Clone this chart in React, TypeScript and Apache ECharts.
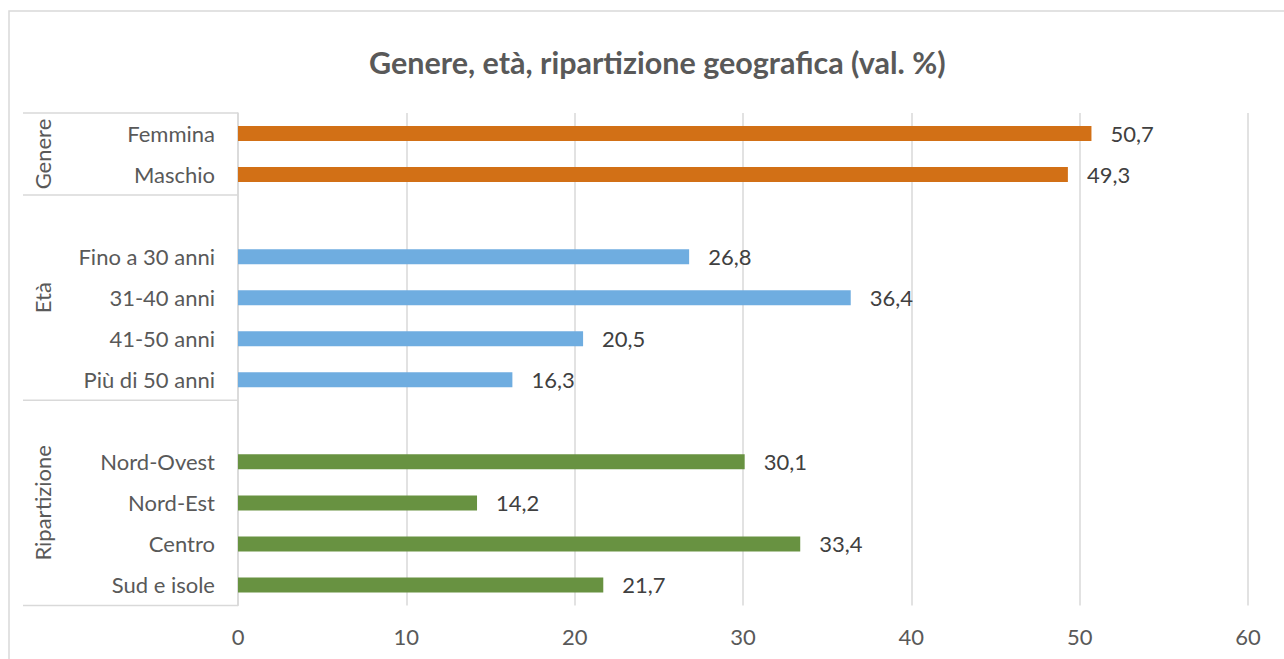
import React, { useEffect, useRef } from "react";
import * as echarts from "echarts";

const titleText = "Genere, età, ripartizione geografica (val. %)";

const genereCats = ["Femmina", "Maschio"];
const genereValues = [50.7, 49.3];
const etaCats = ["Fino a 30 anni", "31-40 anni", "41-50 anni", "Più di 50 anni"];
const etaValues = [26.8, 36.4, 20.5, 16.3];
const ripCats = ["Nord-Ovest", "Nord-Est", "Centro", "Sud e isole"];
const ripValues = [30.1, 14.2, 33.4, 21.7];

const groupNames = ["Genere", "Età", "Ripartizione"];
const groupColors = ["#D27016", "#6FADE0", "#689241"];

const xTicks = { min: 0, max: 60, interval: 10 };

const FONT = "Lato, 'Open Sans', sans-serif";

export default function App() {
  const ref = useRef<HTMLDivElement>(null);

  useEffect(() => {
    document.body.style.margin = "0";
    const el = ref.current!;
    const chart = echarts.init(el, null, { renderer: "svg" });

    const groups = [
      { cats: genereCats, vals: genereValues, blank: false },
      { cats: etaCats, vals: etaValues, blank: true },
      { cats: ripCats, vals: ripValues, blank: true },
    ];
    const categories: string[] = [];
    const ranges: { start: number; end: number }[] = [];
    const seriesData: any[][] = groups.map(() => []);
    groups.forEach((g, gi) => {
      const start = categories.length;
      if (g.blank) {
        categories.push(" ".repeat(gi));
      }
      g.cats.forEach((c) => categories.push(c));
      ranges.push({ start, end: categories.length });
    });
    groups.forEach((g, gi) => {
      const arr: any[] = new Array(categories.length).fill("-");
      const off = ranges[gi].end - g.cats.length;
      g.vals.forEach((v, i) => (arr[off + i] = v));
      seriesData[gi] = arr;
    });

    const option: any = {
      animation: false,
      title: {
        text: titleText,
        left: 364,
        top: 41,
        textStyle: {
          fontFamily: FONT,
          fontWeight: "bold",
          fontSize: 30.5,
          color: "#595959",
        },
      },
      grid: { left: 238, right: 36, top: 113, bottom: 53.5 },
      xAxis: {
        type: "value",
        min: xTicks.min,
        max: xTicks.max,
        interval: xTicks.interval,
        axisLine: { show: false },
        axisTick: { show: false },
        splitLine: { lineStyle: { color: "#D9D9D9", width: 1.5 } },
        axisLabel: {
          fontFamily: FONT,
          fontSize: 22,
          color: "#595959",
          margin: 20,
        },
      },
      yAxis: {
        type: "category",
        inverse: true,
        data: categories,
        axisLine: { show: true, lineStyle: { color: "#D9D9D9", width: 1.5 } },
        axisTick: { show: false },
        axisLabel: {
          fontFamily: FONT,
          fontSize: 22,
          color: "#595959",
          margin: 23,
        },
      },
      series: groups.map((g, gi) => ({
        type: "bar",
        name: groupNames[gi],
        data: seriesData[gi],
        barWidth: 15,
        barGap: "-100%",
        itemStyle: { color: groupColors[gi] },
        label: {
          show: true,
          position: "right",
          distance: 19,
          fontFamily: FONT,
          fontSize: 22,
          color: "#404040",
          formatter: (p: any) => Number(p.value).toFixed(1).replace(".", ","),
        },
      })),
    };
    chart.setOption(option);

    const c = (i: number) => chart.convertToPixel({ yAxisIndex: 0 }, i) as number;
    const band = c(1) - c(0);
    const x0 = chart.convertToPixel({ xAxisIndex: 0 }, 0) as number;
    const leftX = 23;
    const graphics: any[] = [
      {
        type: "rect",
        shape: { x: 9, y: 11, width: 1300, height: 700 },
        style: { fill: "none", stroke: "#D9D9D9", lineWidth: 1.5 },
        z: -1,
      },
    ];
    const boundaries: number[] = [c(0) - band / 2];
    ranges.forEach((r) => boundaries.push(c(r.end - 1) + band / 2));
    boundaries.forEach((y) =>
      graphics.push({
        type: "line",
        shape: { x1: leftX, y1: y, x2: x0, y2: y },
        style: { stroke: "#D9D9D9", lineWidth: 1.5 },
      })
    );
    ranges.forEach((r, gi) => {
      const yc = (c(r.start) + c(r.end - 1)) / 2;
      graphics.push({
        type: "text",
        x: 42,
        y: yc,
        rotation: Math.PI / 2,
        style: {
          text: groupNames[gi],
          fontFamily: FONT,
          fontSize: 22,
          fill: "#595959",
          align: "center",
          verticalAlign: "middle",
        },
      });
    });
    chart.setOption({ graphic: graphics });

    return () => chart.dispose();
  }, []);

  return <div ref={ref} style={{ width: 1284, height: 659, overflow: "hidden" }} />;
}
